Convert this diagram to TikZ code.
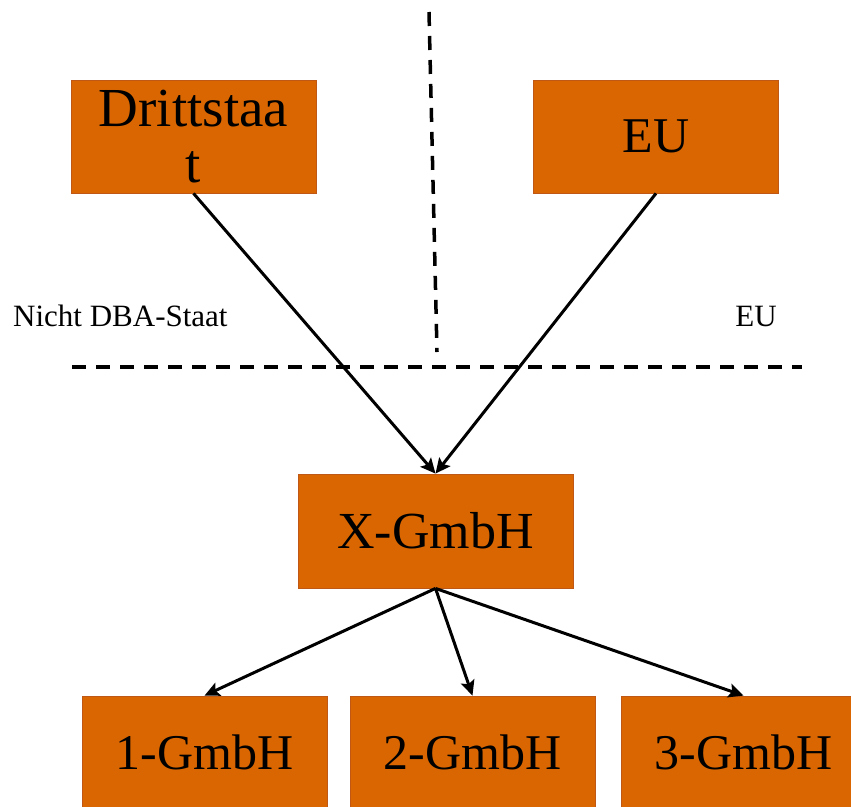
\documentclass[tikz,border=0pt]{standalone}
\usepackage{fontspec}
\setmainfont{Liberation Serif}
\usetikzlibrary{arrows.meta}
\definecolor{boxfill}{RGB}{217,102,0}
\definecolor{boxline}{RGB}{190,88,20}
\tikzset{
  orgbox/.style={rectangle, fill=boxfill, draw=boxline, line width=0.8pt,
    minimum width=245pt, minimum height=113pt, inner sep=0pt,
    font=\fontsize{50}{56}\selectfont, align=center},
  conn/.style={line width=3pt, -{Stealth[length=15pt,width=14pt,inset=3pt]}},
  borderline/.style={line width=3.5pt, dash pattern=on 14pt off 10pt},
  sidelabel/.style={font=\fontsize{31}{34}\selectfont, inner sep=0pt}
}
\begin{document}
\begin{tikzpicture}[x=1pt,y=-1pt]
\useasboundingbox (0,0) rectangle (851,806);
\clip (0,0) rectangle (851,806);
\node[orgbox, font=\fontsize{55}{56}\selectfont] (dritt) at (193.5,136.5) {Drittstaa\\t};
\node[orgbox] (eu) at (656,136.5) {EU};
\node[orgbox, minimum width=275pt, minimum height=114pt, font=\fontsize{52}{56}\selectfont] (x) at (435.5,531) {X-GmbH};
\node[orgbox] (g1) at (204.5,752.5) {1-GmbH};
\node[orgbox] (g2) at (472.5,752.5) {2-GmbH};
\node[orgbox] (g3) at (743.5,752.5) {3-GmbH};
\coordinate (vtop) at (429,12);
\coordinate (vbot) at (437,352);
\coordinate (hleft) at (72,367);
\coordinate (hright) at (802,367);
\draw[borderline] (vtop) -- (vbot);
\draw[borderline] (hleft) -- (hright);
\node[sidelabel, anchor=west] (ndba) at (13,316) {Nicht DBA-Staat};
\node[sidelabel] (eulab) at (756,316) {EU};
\draw[conn] (dritt.south) -- (x.north);
\draw[conn] (eu.south) -- (x.north);
\draw[conn] (x.south) -- (g1.north);
\draw[conn] (x.south) -- (g2.north);
\draw[conn] (x.south) -- (g3.north);
\end{tikzpicture}
\end{document}
